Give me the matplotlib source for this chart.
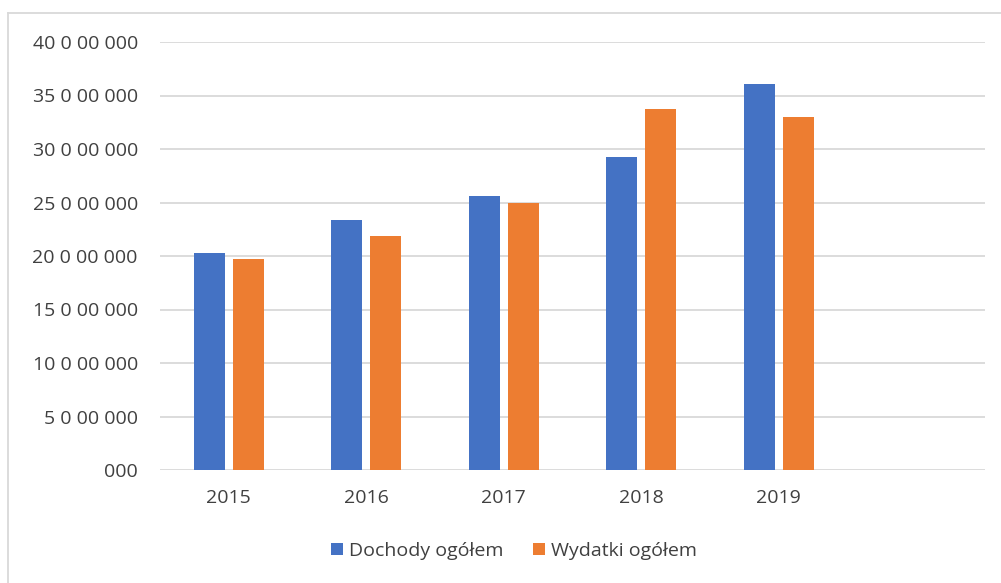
import numpy as np
import matplotlib.pyplot as plt
from matplotlib.lines import Line2D

years = ['2015', '2016', '2017', '2018', '2019', '']
dochody = [20.31e6, 23.35e6, 25.65e6, 29.28e6, 36.05e6, np.nan]
wydatki = [19.72e6, 21.90e6, 24.95e6, 33.71e6, 32.96e6, np.nan]
ytick_vals = [0, 5e6, 10e6, 15e6, 20e6, 25e6, 30e6, 35e6, 40e6]
ytick_labels = ['000', '5 0 00 000', '10 0 00 000', '15 0 00 000', '20 0 00 000',
                '25 0 00 000', '30 0 00 000', '35 0 00 000', '40 0 00 000']

plt.rcParams['font.family'] = ['Open Sans', 'DejaVu Sans']
text_col = '#404040'
grid_col = '#d9d9d9'
fs = 14

fig = plt.figure(figsize=(10.01, 5.83), dpi=100)
ax = fig.add_axes([160/1001, 1-470/583, 825/1001, 428/583])

x = np.arange(len(years))
w = 0.225
off = 0.142
ax.bar(x - off, dochody, w, color='#4472c4', label='Dochody ogółem', zorder=3)
ax.bar(x + off, wydatki, w, color='#ed7d31', label='Wydatki ogółem', zorder=3)

ax.set_xlim(-0.5, len(years) - 0.5)
ax.set_ylim(0, 40e6)
ax.set_yticks(ytick_vals)
ax.set_yticklabels(ytick_labels, fontsize=fs, color=text_col)
ax.set_xticks(x[:5])
ax.set_xticklabels(years[:5], fontsize=fs, color=text_col)
ax.tick_params(length=0)
ax.tick_params(axis='y', pad=16)
ax.tick_params(axis='x', pad=14)
ax.yaxis.grid(True, color=grid_col, linewidth=1.3, zorder=0)
for s in ax.spines.values():
    s.set_visible(False)

# outer chart border (left and top only)
fig.add_artist(Line2D([7.5/1001, 7.5/1001], [0, 1-12.5/583], color=grid_col, linewidth=1.3))
fig.add_artist(Line2D([7.5/1001, 1], [1-12.5/583, 1-12.5/583], color=grid_col, linewidth=1.3))

fig.legend(loc='center', bbox_to_anchor=(514/1001, 1-551/583), ncol=2, frameon=False,
           fontsize=fs, handlelength=0.62, handleheight=0.62, columnspacing=1.5,
           handletextpad=0.3, labelcolor=text_col)

fig.savefig('out.png', dpi=100)
